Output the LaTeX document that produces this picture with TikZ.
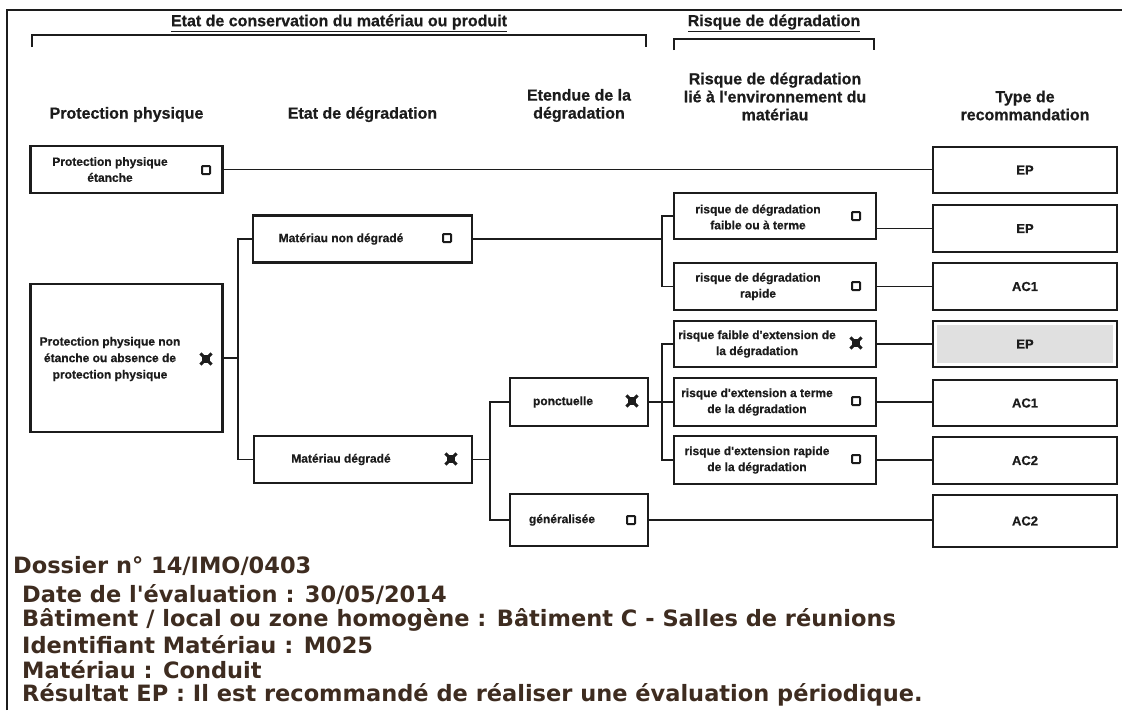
\documentclass[tikz,border=0pt]{standalone}
\usepackage{fontspec}
\setmainfont{Liberation Sans}
\newfontfamily\heavy{Liberation Sans}[BoldFeatures={FakeBold=0.6}]
\newfontfamily\verdfont{DejaVu Sans}
\usetikzlibrary{calc}
\definecolor{ink}{RGB}{28,28,28}
\definecolor{txtbrown}{RGB}{62,44,32}
\definecolor{greyfill}{RGB}{224,224,224}
\tikzset{
 box/.style={draw=ink, line width=2.3pt, inner sep=0pt, fill=white},
 bx/.style n args={2}{box, minimum width=#1pt, minimum height=#2pt},
 conn/.style={draw=ink, line width=1.9pt},
 frameline/.style={draw=ink, line width=2pt},
 hdr/.style={font=\heavy\fontsize{16}{18}\selectfont\bfseries, text=ink, align=center, inner sep=0pt},
 btxt/.style={font=\heavy\fontsize{12}{16}\selectfont\bfseries, text=ink, align=center, inner sep=0pt},
 rtxt/.style={font=\heavy\fontsize{13}{15}\selectfont\bfseries, text=ink, inner sep=0pt},
 cb/.style={draw=ink, line width=2pt, minimum size=8pt, inner sep=0pt, rounded corners=0.8pt},
 xbox/.pic={\fill[ink] (-4.2,-4.2) rectangle (4.2,4.2);
            \draw[ink, line width=3pt] (-5.6,-5.6) -- (5.6,5.6) (-5.6,5.6) -- (5.6,-5.6);},
 btm/.style={font=\verdfont\fontsize{22.5}{25}\selectfont\bfseries, text=txtbrown, anchor=west, inner sep=0pt},
 greyin/.style={path picture={\fill[greyfill] ([shift={(4,4)}]path picture bounding box.north west) rectangle ([shift={(-4,-4)}]path picture bounding box.south east);}}
}
\begin{document}
\begin{tikzpicture}[x=1pt,y=-1pt]
\useasboundingbox[fill=white] (0,0) rectangle (1122,710);

% frame
\draw[frameline] (7,710) -- (7,10) -- (1122,10);

% top headers and brackets
\node[hdr] (h1) at (339,23) {\underline{Etat de conservation du matériau ou produit}};
\node[hdr] (h2) at (774,23) {\underline{Risque de dégradation}};
\draw[conn] (32,47) -- (32,35) -- (646,35) -- (646,47);
\draw[conn] (674,50) -- (674,39) -- (874,39) -- (874,50);

% column headers
\node[hdr] (c1) at (126.5,114.5) {Protection physique};
\node[hdr] (c2) at (362.5,114.5) {Etat de dégradation};
\node[hdr] (c3) at (579,105.5) {Etendue de la\\dégradation};
\node[hdr] (c4) at (775,96.5) {Risque de dégradation\\lié à l'environnement du\\matériau};
\node[hdr] (c5) at (1025,105.5) {Type de\\recommandation};

% boxes
\node[bx={192}{47}] (ppe) at (126.5,169.5) {};
\node[bx={192}{148}] (ppn) at (126.5,358) {};
\node[bx={219}{47}] (mnd) at (362.5,239) {};
\node[bx={218}{47}] (md) at (363,459.5) {};
\node[bx={138}{48}] (ponc) at (579,402) {};
\node[bx={138}{52}] (gen) at (579,520) {};
\node[bx={202}{46}] (r1) at (775,216) {};
\node[bx={202}{47}] (r2) at (775,286.5) {};
\node[bx={202}{46}] (r3) at (775,344) {};
\node[bx={202}{48}] (r4) at (775,402) {};
\node[bx={202}{48}] (r5) at (775,460) {};
\node[bx={184}{46}] (e1) at (1025,170) {};
\node[bx={184}{47}] (e2) at (1025,228.5) {};
\node[bx={184}{47}] (e3) at (1025,286.5) {};
\node[bx={184}{46}, greyin] (e4) at (1025,344) {};
\node[bx={184}{46}] (e5) at (1025,403) {};
\node[bx={184}{47}] (e6) at (1025,460.5) {};
\node[bx={184}{52}] (e7) at (1025,521) {};

% box texts
\node[btxt] (ppe-t) at (110,169.5) {Protection physique\\étanche};
\node[btxt, font=\heavy\fontsize{12}{16.5}\selectfont\bfseries] (ppn-t) at (110,359) {Protection physique non\\étanche ou absence de\\protection physique};
\node[btxt] (mnd-t) at (341,239) {Matériau non dégradé};
\node[btxt] (md-t) at (341,459.5) {Matériau dégradé};
\node[btxt] (ponc-t) at (563,402) {ponctuelle};
\node[btxt] (gen-t) at (562,520) {généralisée};
\node[btxt] (r1-t) at (758,217) {risque de dégradation\\faible ou à terme};
\node[btxt] (r2-t) at (758,286.5) {risque de dégradation\\rapide};
\node[btxt] (r3-t) at (757,344) {risque faible d'extension de\\la dégradation};
\node[btxt] (r4-t) at (757,402) {risque d'extension a terme\\de la dégradation};
\node[btxt] (r5-t) at (757,460) {risque d'extension rapide\\de la dégradation};
\node[rtxt] (e1-t) at (e1) {EP};
\node[rtxt] (e2-t) at (e2) {EP};
\node[rtxt] (e3-t) at (e3) {AC1};
\node[rtxt] (e4-t) at (e4) {EP};
\node[rtxt] (e5-t) at (e5) {AC1};
\node[rtxt] (e6-t) at (e6) {AC2};
\node[rtxt] (e7-t) at (e7) {AC2};

% checkboxes
\node[cb] (ppe-c) at (206,170) {};
\pic at (206,359) {xbox};
\node[cb] (mnd-c) at (447,238) {};
\pic at (451,459) {xbox};
\pic at (632,401) {xbox};
\node[cb] (gen-c) at (631,520) {};
\node[cb] (r1-c) at (856,216) {};
\node[cb] (r2-c) at (856,286) {};
\pic at (856,343) {xbox};
\node[cb] (r4-c) at (856,401) {};
\node[cb] (r5-c) at (856,459) {};

% connectors
\coordinate (j1) at (238,358);
\coordinate (j2) at (662,239);
\coordinate (j3) at (490,459.5);
\coordinate (j4) at (662,402);
\draw[conn] (ppe.east) -- (ppe.east -| e1.west);
\draw[conn] (ppn.east) -- (j1);
\draw[conn] (mnd.west) -| (j1) |- (md.west);
\draw[conn] (mnd.east) -- (j2);
\draw[conn] (r1.west) -| (j2) |- (r2.west);
\draw[conn] (r1.east |- e2.west) -- (e2.west);
\draw[conn] (r2.east) -- (r2.east -| e3.west);
\draw[conn] (md.east) -- (j3);
\draw[conn] (ponc.west) -| (j3) |- (gen.west);
\draw[conn] (ponc.east) -- (j4);
\draw[conn] (r3.west) -| (j4) |- (r5.west);
\draw[conn] (j4) -- (r4.west);
\draw[conn] (r3.east) -- (r3.east -| e4.west);
\draw[conn] (r4.east) -- (r4.east -| e5.west);
\draw[conn] (r5.east) -- (r5.east -| e6.west);
\draw[conn] (gen.east) -- (gen.east -| e7.west);

% bottom text
\node[btm] (d1) at (13,566) {Dossier n° 14/IMO/0403};
\node[btm] (d2) at (22,595) {Date de l'évaluation : 30/05/2014};
\node[btm] (d3) at (22,620) {Bâtiment / local ou zone homogène : Bâtiment C - Salles de réunions};
\node[btm] (d4) at (22,645) {Identifiant Matériau : M025};
\node[btm] (d5) at (22,670) {Matériau : Conduit};
\node[btm] (d6) at (22,695) {Résultat EP : Il est recommandé de réaliser une évaluation périodique.};
\end{tikzpicture}
\end{document}
